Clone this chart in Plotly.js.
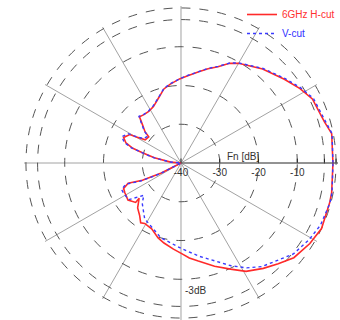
<!DOCTYPE html>
<html><head><meta charset="utf-8">
<script src="https://cdn.plot.ly/plotly-3.0.1.min.js"></script>
<style>html,body{margin:0;padding:0;background:#fff}#chart{width:340px;height:320px}</style>
</head><body><div id="chart"></div>
<script>
// H-cut (red) : angle in degrees, level in dB
const thetaH = [0,11,16,26,32,39,49,60,64,69,74,79,86,91,98,103,110,116,122,127,132,135,139,141,147,150,151,156,160,163,165,169,175,180,
  207,204,201,204,208,215,221,220,226,232,236,239,246,253,258,265,271,275,280,288,295,301,308,314,320,328,335,345,349,360];
const levelH = [-0.8,-0.4,-1.5,-2.3,-3.8,-5.7,-7.9,-10.3,-11.4,-13.4,-14.7,-16,-17.5,-18.3,-19.5,-20.4,-22.5,-23.8,-24.3,-24.3,-24.0,-25.9,-27.7,-29.3,-29,-26.5,-24.9,-23.8,-24.9,-27,-29.7,-33,-37.3,-40,
  -34.3,-29.1,-25.4,-23.8,-23.6,-23.3,-24.5,-25.9,-23.9,-22.7,-21.4,-21.8,-21.4,-19.8,-18.9,-17.7,-16.5,-15.4,-14.3,-12,-9.8,-7.4,-5.5,-3.9,-2.0,-0.8,0,-0.3,-0.4,-0.8];
// V-cut (blue)
const thetaV = [0,11,16,26,32,39,49,60,64,69,74,79,86,91,98,103,110,116,122,127,132,135,139,141,147,150,151,156,160,163,165,169,175,180,
  207,204,201,204,208,215,221,226,237,242,255,271,281,296,302,308,321,329,336,345,349,360];
const levelV = [-0.8,-0.3,-1.2,-2.0,-3.5,-5.4,-7.7,-10.2,-11.3,-13.3,-14.6,-16,-17.4,-18.3,-19.4,-20.3,-22.4,-23.6,-24.2,-24.2,-23.8,-25.6,-27.5,-29.0,-28.5,-26,-24.4,-23.3,-24.4,-26.6,-29.4,-32.8,-37.2,-40,
  -33.8,-28.5,-24.8,-23.2,-23.3,-23.5,-27.3,-25.6,-22.8,-22.3,-20,-17.8,-15.5,-10.5,-8.1,-6.1,-2.7,-1.5,-0.6,-0.2,-0.3,-0.8];
const radialTicks = [-40,-30,-20,-10,-3,0];
const radialTickText = ['-40','-30','-20','-10','',''];
const nameH = '6GHz H-cut';
const nameV = 'V-cut';

const traces = [
  {type:'scatterpolar', mode:'lines', theta:thetaH, r:levelH, name:'<span style="color:#ff3030">'+nameH+'</span>',
   line:{color:'#ff2a2a', width:1.6}},
  {type:'scatterpolar', mode:'lines', theta:thetaV, r:levelV, name:'<span style="color:#3030ff">'+nameV+'</span>',
   line:{color:'#3a3aff', width:1.4, dash:'dot'}}
];
const layout = {
  width:340, height:320, margin:{l:0,r:0,t:0,b:0},
  paper_bgcolor:'#fff', showlegend:true,
  font:{family:'Liberation Sans, Arial, sans-serif', size:10, color:'#333'},
  polar:{
    domain:{x:[0.0706,0.9941], y:[0,0.98125]},
    bgcolor:'rgba(0,0,0,0)',
    radialaxis:{range:[-40,0.5], tickvals:radialTicks, ticktext:radialTickText, angle:0, side:'clockwise',
      showline:true, linecolor:'#555', linewidth:1, ticks:'inside', ticklen:4, tickcolor:'#222',
      gridcolor:'#555', griddash:'dash', gridwidth:1, tickfont:{size:10,color:'#333'}},
    angularaxis:{dtick:30, rotation:0, direction:'counterclockwise', showticklabels:false, ticks:'',
      showline:false, gridcolor:'#8a8a8a', gridwidth:0.8}
  },
  legend:{x:1, xanchor:'right', y:1, yanchor:'top', bgcolor:'rgba(0,0,0,0)', font:{size:10}, tracegroupgap:0, itemwidth:30},
  annotations:[
    {text:'Fn [dB]', xref:'paper', yref:'paper', x:261/340, y:1-156/320, showarrow:false, font:{size:10,color:'#333'}},
    {text:'-3dB', xref:'paper', yref:'paper', x:196/340, y:1-298/320, showarrow:false, font:{size:10,color:'#333'}}
  ]
};
Plotly.newPlot('chart', traces, layout, {displayModeBar:false, staticPlot:true});
</script></body></html>
